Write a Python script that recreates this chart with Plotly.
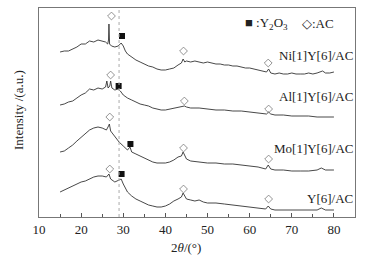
import plotly.graph_objects as go

# 2theta positions and intensities (a.u., stacked offsets included)
ni_x = [15, 16, 17, 18, 19, 20, 21, 22, 23, 24, 25, 25.8, 26.3, 26.5, 26.6, 26.75, 27.2, 28, 28.8, 29.5, 30, 30.5, 31, 32, 33, 34, 35, 36, 37, 38, 39, 40, 41, 42, 43, 43.8, 44.2, 44.6, 45, 46, 47, 48, 49, 50, 51, 52, 53, 54, 55, 56, 57, 58, 59, 60, 61, 62, 63, 64, 64.5, 65, 66, 67, 68, 69, 70, 71, 72, 73, 74, 75, 76, 77.3, 78, 79, 80]
ni_y = [165, 166, 166, 168, 170, 173, 173, 176, 175, 177, 176, 175, 173, 177, 193, 173, 171, 170, 171, 174, 171, 166, 163, 160, 157, 155, 153, 151, 150, 148, 147, 147, 148, 149, 152, 154, 158, 155, 156, 155, 156, 155, 154, 155, 154, 153, 153, 152, 152, 151, 151, 150, 149, 149, 148, 147, 146, 145, 148, 144, 143, 144, 143, 143, 144, 143, 143, 143, 144, 143, 144, 146, 144, 144, 145]

al_x = [15, 16, 17, 18, 19, 20, 21, 22, 23, 24, 25, 25.8, 26.1, 26.4, 26.8, 27.0, 27.3, 28, 28.8, 29.3, 30, 31, 32, 33, 34, 35, 36, 37, 38, 39, 40, 41, 42, 43, 44, 44.5, 45, 46, 48, 50, 52, 54, 56, 58, 60, 62, 64, 64.5, 65, 66, 68, 70, 72, 74, 76, 78, 80]
al_y = [112, 113, 115, 116, 119, 122, 124, 128, 127, 129, 128, 130, 136, 129, 131, 136, 129, 127, 128, 126, 122, 119, 117, 115, 113, 112, 111, 109, 108, 107, 107, 108, 109, 110, 111, 111, 110, 109, 109, 108, 107, 107, 106, 106, 105, 104, 103, 105, 103, 102, 102, 101, 101, 101, 100, 100, 100]

mo_x = [15, 16, 17, 18, 19, 20, 21, 22, 23, 24, 25, 26, 26.5, 26.7, 27, 28, 29, 30, 31, 31.6, 32, 33, 34, 35, 36, 37, 38, 39, 40, 41, 42, 43, 43.8, 44.2, 44.6, 45, 46, 48, 50, 52, 54, 56, 58, 60, 62, 63.8, 64.4, 65, 66, 68, 70, 72, 74, 76, 77, 78, 79, 80]
mo_y = [65, 66, 69, 72, 76, 80, 83, 87, 89, 90, 89, 87, 91, 93, 86, 80, 75, 71, 67, 70, 65, 63, 61, 59, 57, 55, 54, 54, 54, 55, 57, 60, 61, 65, 61, 58, 56, 55, 54, 54, 53, 53, 52, 51, 50, 48, 52, 48, 47, 47, 46, 46, 46, 47, 49, 47, 47, 47]

y_x = [15, 16, 17, 18, 19, 20, 21, 22, 23, 24, 25, 26, 26.6, 27, 28, 29, 29.5, 30, 31, 32, 33, 34, 35, 36, 37, 38, 39, 40, 41, 42, 43, 43.8, 44.2, 44.6, 45, 46, 47, 48, 49, 50, 52, 54, 56, 58, 60, 62, 63.8, 64.4, 65, 66, 68, 70, 72, 74, 76, 77, 78, 80]
y_y = [25, 27, 29, 31, 33, 35, 36, 38, 40, 41, 41, 40, 43, 38, 35, 37, 38, 33, 25, 21, 18, 16, 14, 12, 11, 10, 10, 11, 13, 16, 18, 20, 24, 21, 18, 17, 16, 17, 15, 14, 14, 13, 12, 11, 10, 9, 8, 11, 8, 7, 7, 7, 7, 7, 7, 9, 7, 7]

# phase markers
ac_x = [27.2, 44.3, 64.4, 27.0, 44.5, 64.5, 26.8, 44.3, 64.5, 26.8, 44.3, 64.5]
ac_y = [201, 166, 154, 142, 116, 108, 100, 69, 58, 48, 28, 18]
y2o3_x = [29.7, 28.9, 31.7, 29.6]
y2o3_y = [181, 131, 73, 43]

sample_labels = ["Ni[1]Y[6]/AC", "Al[1]Y[6]/AC", "Mo[1]Y[6]/AC", "Y[6]/AC"]
label_y = [162, 121, 69, 19]
ref_line_x = 29.0

FONT = "Liberation Serif"
TXT = "#222222"
LINE = "#333333"

fig = go.Figure()
for xs, ys in [(ni_x, ni_y), (al_x, al_y), (mo_x, mo_y), (y_x, y_y)]:
    fig.add_trace(go.Scatter(x=xs, y=ys, mode="lines",
                             line=dict(color=LINE, width=0.9), showlegend=False))

fig.add_trace(go.Scatter(x=ac_x, y=ac_y, mode="markers", showlegend=False,
                         marker=dict(symbol="diamond-open", size=6, color="#777777",
                                     line=dict(width=0.8))))
fig.add_trace(go.Scatter(x=y2o3_x, y=y2o3_y, mode="markers", showlegend=False,
                         marker=dict(symbol="square", size=6, color="#111111")))

fig.add_shape(type="line", x0=ref_line_x, x1=ref_line_x, y0=0, y1=1, yref="paper",
              line=dict(color="#aaaaaa", width=1, dash="dot"))

for txt, yy in zip(sample_labels, label_y):
    fig.add_annotation(x=85.0, y=yy, text=txt, showarrow=False, xanchor="right",
                       font=dict(family=FONT, size=13, color=TXT))

# phase legend
fig.add_annotation(x=58.4, y=194, text="■ :Y<sub>2</sub>O<sub>3</sub>", showarrow=False,
                   xanchor="left", font=dict(family=FONT, size=13, color=TXT))
fig.add_annotation(x=72.0, y=194, text="◇:AC", showarrow=False,
                   xanchor="left", font=dict(family=FONT, size=13, color=TXT))

fig.add_annotation(x=(18 - 39) / 316, y=(217 - 110) / 209, xref="paper", yref="paper",
                   text="Intensity /(a.u.)", textangle=-90, showarrow=False,
                   xanchor="center", yanchor="middle",
                   font=dict(family=FONT, size=13, color=TXT))
fig.add_annotation(x=(186 - 39) / 316, y=(217 - 247) / 209, xref="paper", yref="paper",
                   text="2<i>θ</i>/(°)", showarrow=False, xanchor="center", yanchor="middle",
                   font=dict(family=FONT, size=13, color=TXT))

fig.update_xaxes(range=[10, 85], tickvals=[10, 20, 30, 40, 50, 60, 70, 80],
                 ticks="inside", ticklen=4, tickcolor="#555555",
                 minor=dict(tickvals=[15, 25, 35, 45, 55, 65, 75], ticks="inside",
                            ticklen=3, tickcolor="#555555"),
                 showline=True, linecolor="#777777", linewidth=1, mirror=True,
                 showgrid=False, zeroline=False, automargin=False,
                 tickfont=dict(family=FONT, size=13, color=TXT))
fig.update_yaxes(range=[0, 209], showticklabels=False, ticks="",
                 showline=True, linecolor="#777777", linewidth=1, mirror=True,
                 showgrid=False, zeroline=False, automargin=False)

fig.update_layout(width=385, height=259, margin=dict(l=39, r=30, t=8, b=42, autoexpand=False),
                  plot_bgcolor="white", paper_bgcolor="white")

fig.write_html("out.html", config={"displayModeBar": False},
               post_script="document.body.style.margin='0';document.body.style.overflow='hidden';")
